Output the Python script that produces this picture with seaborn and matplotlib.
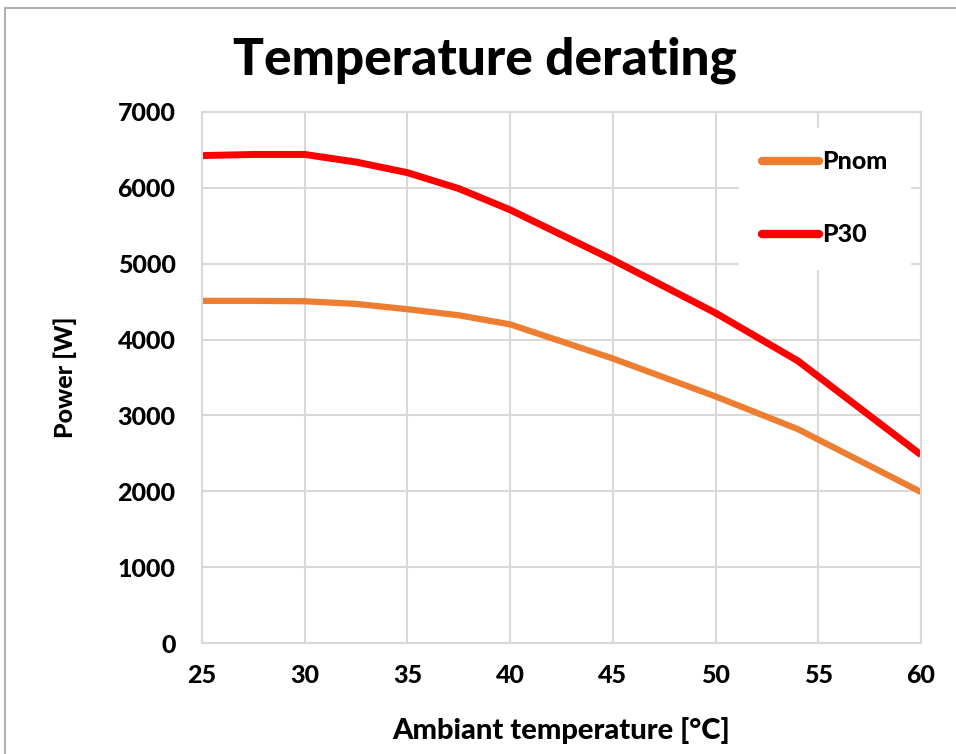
import pandas as pd
import matplotlib.pyplot as plt
import seaborn as sns
from matplotlib.patches import Rectangle

# values
temp = [25, 27.5, 30, 32.5, 35, 37.5, 40, 45, 50, 54, 60]
pnom = [4510, 4510, 4505, 4470, 4400, 4320, 4200, 3750, 3250, 2820, 1990]
p30 = [6425, 6440, 6440, 6340, 6200, 5990, 5710, 5050, 4350, 3720, 2480]
series_names = ['Pnom', 'P30']
colors = ['#ED7D31', '#FF0000']

df = pd.DataFrame({'temp': temp * 2,
                   'power': pnom + p30,
                   'serie': ['Pnom'] * len(temp) + ['P30'] * len(temp)})

sns.set_style('white')
plt.rcParams['font.family'] = ['Lato', 'DejaVu Sans']
plt.rcParams['text.color'] = 'black'

fig = plt.figure(figsize=(9.56, 7.54), dpi=100)
ax = fig.add_axes([0.2113, 0.1472, 0.7521, 0.7043])

sns.lineplot(data=df, x='temp', y='power', hue='serie', hue_order=series_names,
             palette=colors, linewidth=5, ax=ax, legend=True)
for line, w in zip(ax.lines, [4.5, 5]):
    line.set_linewidth(w)
    line.set_solid_capstyle('butt')

ax.set_xlim(25, 60)
ax.set_ylim(0, 7000)
ax.set_xticks(range(25, 61, 5))
ax.set_yticks(range(0, 7001, 1000))
ax.grid(True, color='#d9d9d9', linewidth=1.5)
ax.set_axisbelow(True)
for s in ax.spines.values():
    s.set_color('#d9d9d9')
    s.set_linewidth(1.5)
ax.tick_params(length=0, labelsize=18, labelcolor='black')
ax.tick_params(axis='x', pad=15)
ax.tick_params(axis='y', pad=19)
for lbl in ax.get_xticklabels() + ax.get_yticklabels():
    lbl.set_fontweight('black')

ax.set_xlabel('Ambiant temperature [°C]', fontsize=21, fontweight='black',
              color='black', labelpad=22)
ax.set_ylabel('Power [W]', fontsize=18, fontweight='black', color='black', labelpad=29)
fig.text(0.507, 0.92, 'Temperature derating', fontsize=37, fontweight='black',
         ha='center', va='center', color='black')

h, l = ax.get_legend_handles_labels()
for hh in h:
    hh.set_linewidth(6)
    hh.set_solid_capstyle('round')
leg = ax.legend(h, l, loc='upper right', bbox_to_anchor=(0.984, 0.97), frameon=True,
                facecolor='white', edgecolor='white', framealpha=1, fancybox=False,
                prop={'weight': 'black', 'size': 18}, handlelength=2.3, handletextpad=0.1,
                labelspacing=2.0, borderpad=0.9, borderaxespad=0)

# frame of the embedded picture
fig.patches.append(Rectangle((5 / 956, -0.1), 1.2, 1 - 8 / 754 + 0.1, transform=fig.transFigure,
                             fill=False, edgecolor='#a0a0a0', linewidth=1.2))

fig.savefig('out.png', dpi=100)
